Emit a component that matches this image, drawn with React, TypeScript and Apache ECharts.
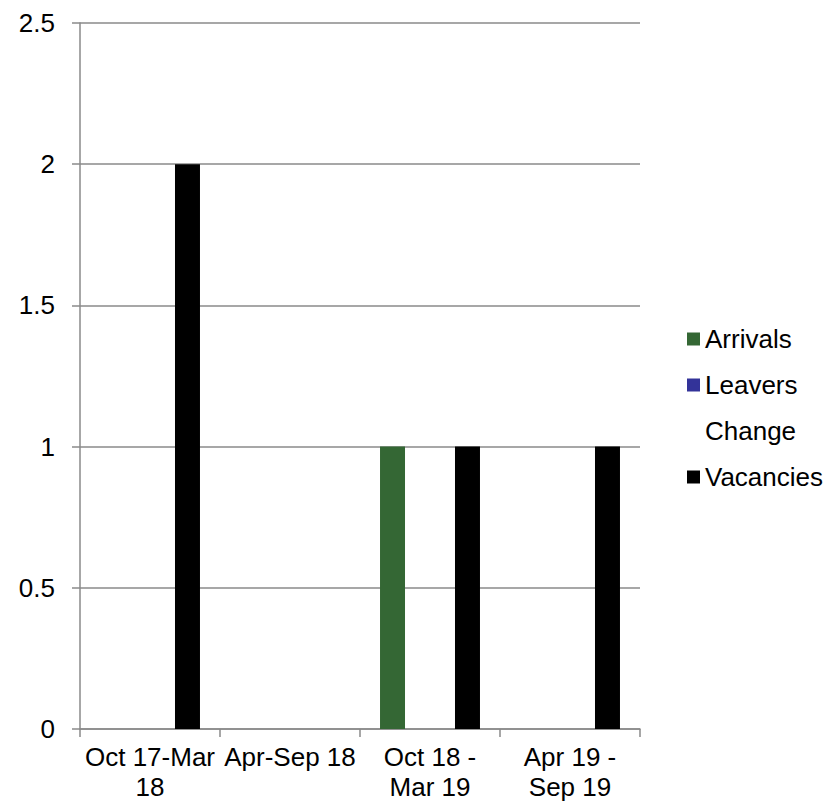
import React, { useEffect, useRef } from "react";
import * as echarts from "echarts";

const categories = ["Oct 17-Mar\n18", "Apr-Sep 18", "Oct 18 -\nMar 19", "Apr 19 -\nSep 19"];
const arrivals = [0, 0, 1, 0];
const leavers = [0, 0, 0, 0];
const change = [0, 0, 0, 0];
const vacancies = [2, 0, 1, 1];
const yTicks = { min: 0, max: 2.5, interval: 0.5 };

const FONT = "'Liberation Sans', Arial, sans-serif";
const GRID = "#8a8a8a";

export default function App() {
  const ref = useRef<HTMLDivElement>(null);
  useEffect(() => {
    const chart = echarts.init(ref.current!, null, { renderer: "svg" });
    chart.setOption({
      animation: false,
      textStyle: { fontFamily: FONT },
      grid: { left: 80, right: 194, top: 23, bottom: 77, containLabel: false },
      legend: {
        orient: "vertical",
        left: 682,
        top: 321,
        itemWidth: 13,
        itemHeight: 13,
        itemGap: 20,
        icon: "rect",
        textStyle: { fontFamily: FONT, fontSize: 26, color: "#000", lineHeight: 26, padding: [0, 0, 0, 0] },
        data: [
          { name: "Arrivals" },
          { name: "Leavers" },
          { name: "Change", itemStyle: { color: "rgba(0,0,0,0)" } },
          { name: "Vacancies" },
        ],
      },
      xAxis: {
        type: "category",
        data: categories,
        axisLine: { show: true, lineStyle: { color: GRID, width: 1.5 } },
        axisTick: { show: true, length: 8, lineStyle: { color: GRID, width: 1.5 } },
        axisLabel: { color: "#000", fontFamily: FONT, fontSize: 26, lineHeight: 30, margin: 13, interval: 0 },
      },
      yAxis: {
        type: "value",
        min: yTicks.min,
        max: yTicks.max,
        interval: yTicks.interval,
        axisLine: { show: true, lineStyle: { color: GRID, width: 1.5 } },
        axisTick: { show: true, length: 8, lineStyle: { color: GRID, width: 1.5 } },
        splitLine: { show: true, lineStyle: { color: GRID, width: 1.5 } },
        axisLabel: { color: "#000", fontFamily: FONT, fontSize: 26, margin: 25 },
      },
      series: [
        { name: "Arrivals", type: "bar", data: arrivals, itemStyle: { color: "#346734" }, barGap: "0%", barCategoryGap: "28.6%" },
        { name: "Leavers", type: "bar", data: leavers, itemStyle: { color: "#333399" } },
        { name: "Change", type: "bar", data: change, itemStyle: { color: "rgba(0,0,0,0)" } },
        { name: "Vacancies", type: "bar", data: vacancies, itemStyle: { color: "#000000" } },
      ],
    });
    return () => chart.dispose();
  }, []);
  return <div ref={ref} style={{ width: 834, height: 806, position: "absolute", left: 0, top: 0 }} />;
}
